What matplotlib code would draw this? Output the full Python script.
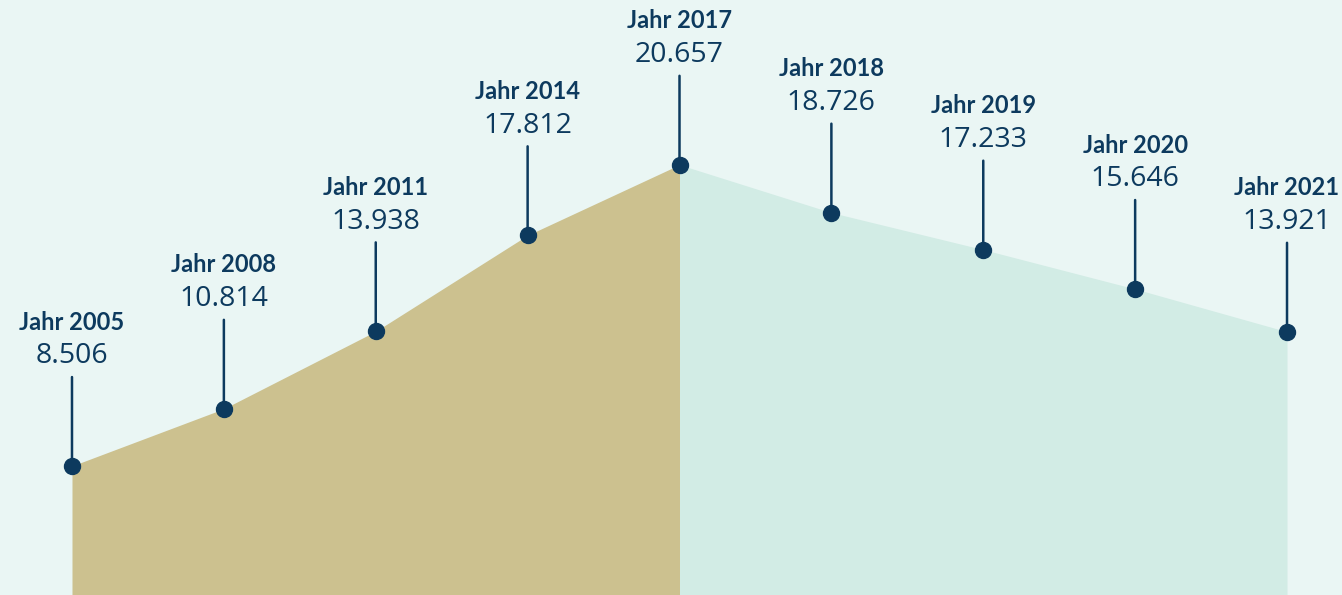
import matplotlib.pyplot as plt

years = ["2005", "2008", "2011", "2014", "2017", "2018", "2019", "2020", "2021"]
values = [8506, 10814, 13938, 17812, 20657, 18726, 17233, 15646, 13921]
labels = ["8.506", "10.814", "13.938", "17.812", "20.657", "18.726", "17.233", "15.646", "13.921"]
split = 4  # index of 2017, where the colour changes

bg = "#EAF6F4"
tan = "#CCC18F"
teal = "#D2ECE5"
navy = "#0D3A5E"

fig = plt.figure(figsize=(13.42, 5.95), dpi=100)
fig.patch.set_facecolor(bg)
ax = fig.add_axes([0, 0, 1, 1])
ax.set_facecolor(bg)

x = list(range(len(values)))
ybase = 3300
ax.fill_between(x[:split + 1], values[:split + 1], ybase, color=tan, lw=0)
ax.fill_between(x[split:], values[split:], ybase, color=teal, lw=0)

for i, v in enumerate(values):
    # stem up from the dot
    ax.annotate("", xy=(i, v), xytext=(0, 64), textcoords="offset points",
                arrowprops=dict(arrowstyle="-", color=navy, lw=1.8,
                                shrinkA=0, shrinkB=0))
    ax.annotate(labels[i], xy=(i, v), xytext=(0, 79), textcoords="offset points",
                ha="center", va="center", fontsize=20.5, color=navy,
                family="Open Sans")
    ax.annotate("Jahr " + years[i], xy=(i, v), xytext=(0, 103.5),
                textcoords="offset points", ha="center", va="center",
                fontsize=17, color=navy, fontweight="bold", family="Lato")

ax.plot(x, values, "o", color=navy, markersize=11.5, lw=0, zorder=5)

ax.set_xlim(-0.474, 8.362)
ax.set_ylim(ybase, 27300)
ax.axis("off")

fig.savefig("out.png", dpi=100, facecolor=bg)
